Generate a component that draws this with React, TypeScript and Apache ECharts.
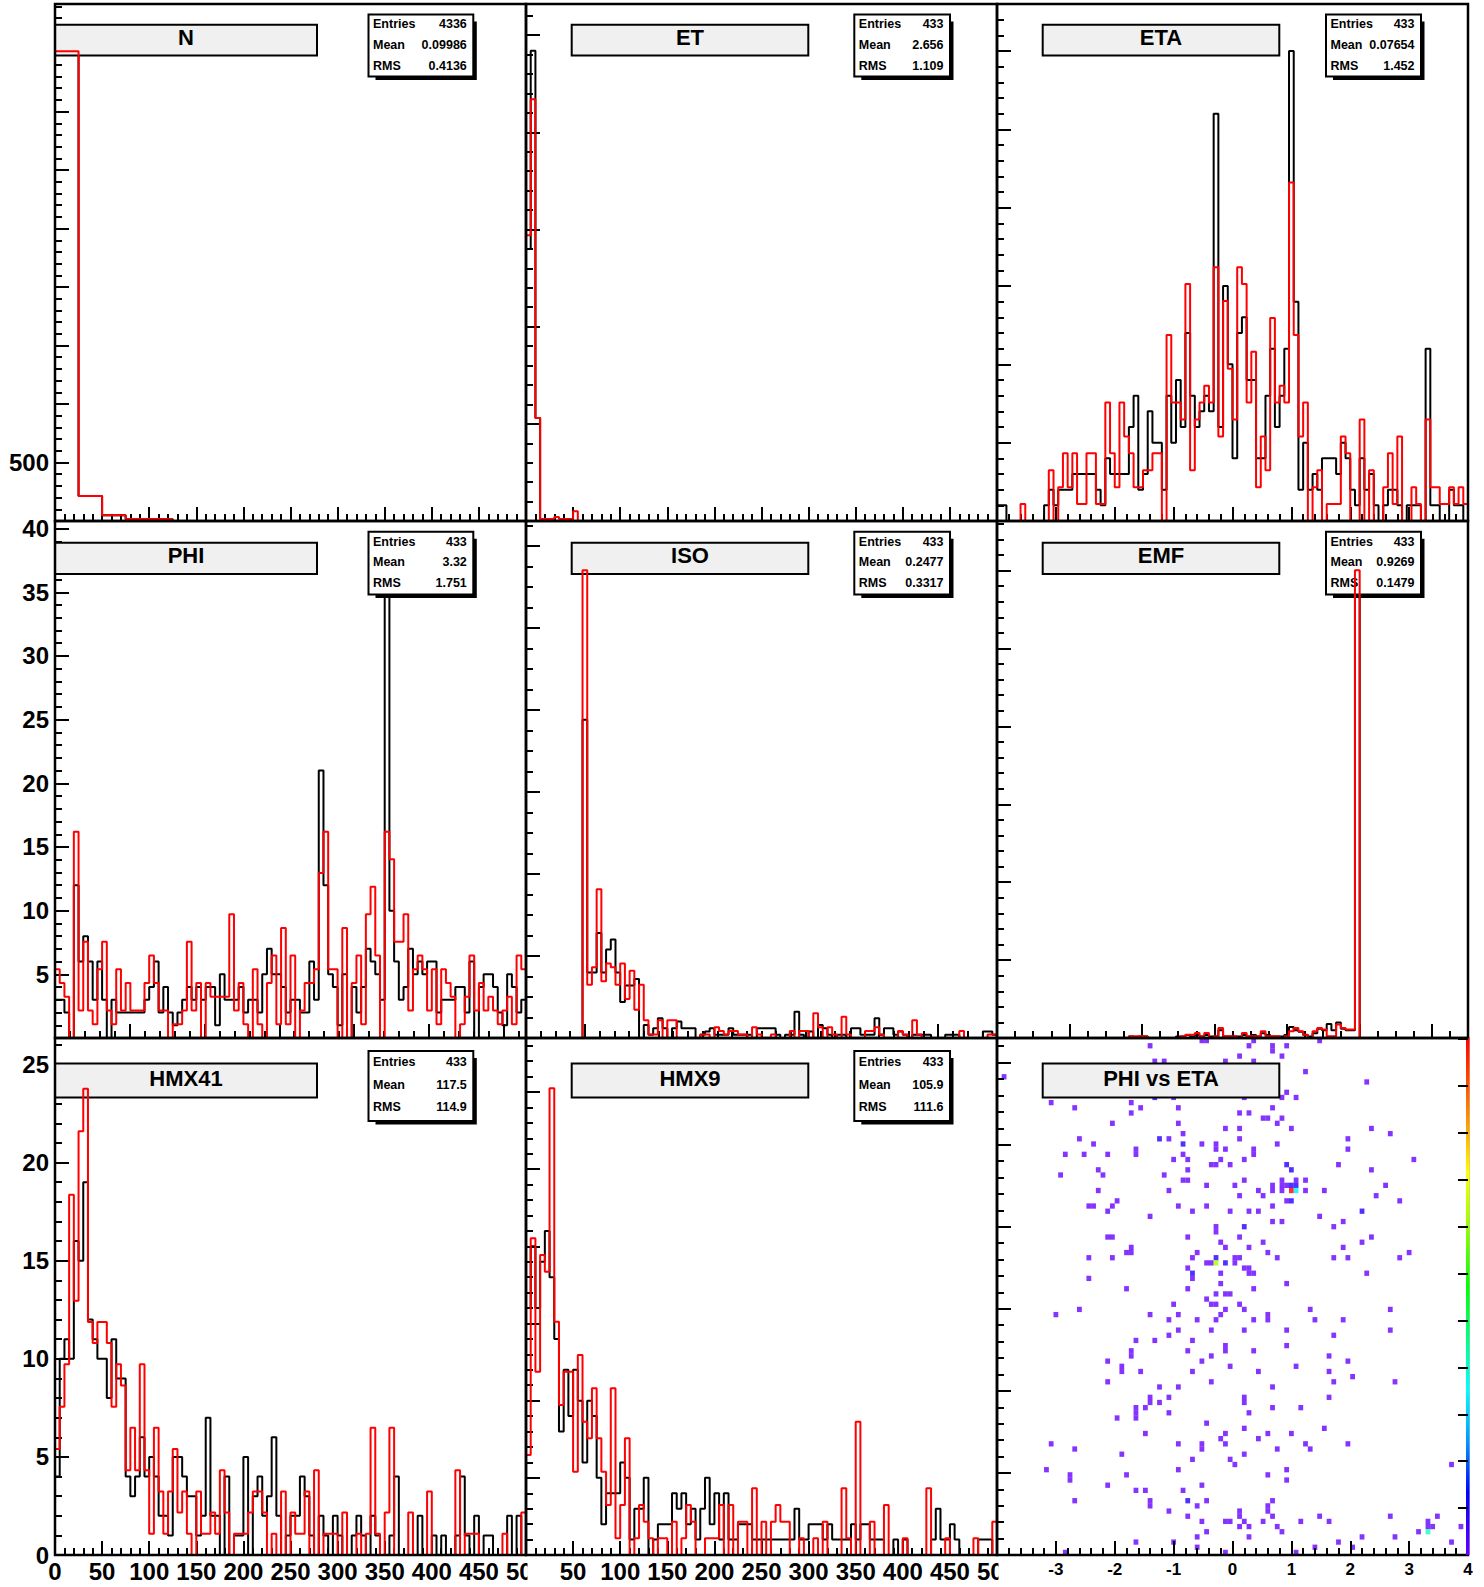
import React, { useEffect, useRef } from "react";
import * as echarts from "echarts";

const FONT = '"Liberation Sans", Arial, Helvetica, sans-serif';

// ---------------- titles & stats ----------------
const TITLES = ["N", "ET", "ETA", "PHI", "ISO", "EMF", "HMX41", "HMX9", "PHI vs ETA"];
const STAT_LABELS = ["Entries", "Mean", "RMS"];
const STAT_ENTRIES = ["4336", "433", "433", "433", "433", "433", "433", "433"];
const STAT_MEANS = ["0.09986", "2.656", "0.07654", "3.32", "0.2477", "0.9269", "117.5", "105.9"];
const STAT_RMS = ["0.4136", "1.109", "1.452", "1.751", "0.3317", "0.1479", "114.9", "111.6"];

// ---------------- histogram contents (black = reference, red = comparison) ----------------
const N_BLACK = [4017, 214, 50, 18, 14, 0, 0, 0, 0, 0, 0, 0, 0, 0, 0, 0, 0, 0, 0, 0];
const N_RED = [4017, 214, 50, 18, 14, 0, 0, 0, 0, 0, 0, 0, 0, 0, 0, 0, 0, 0, 0, 0];

const ET_BLACK = [
  140, 242, 53, 1, 1, 1, 0, 0, 0, 0,
  0, 0, 0, 0, 0, 0, 0, 0, 0, 0,
  0, 0, 0, 0, 0, 0, 0, 0, 0, 0,
  0, 0, 0, 0, 0, 0, 0, 0, 0, 0,
  0, 0, 0, 0, 0, 0, 0, 0, 0, 0,
  0, 0, 0, 0, 0, 0, 0, 0, 0, 0,
  0, 0, 0, 0, 0, 0, 0, 0, 0, 0,
  0, 0, 0, 0, 0, 0, 0, 0, 0, 0,
  0, 0, 0, 0, 0, 0, 0, 0, 0, 0,
  0, 0, 0, 0, 0, 0, 0, 0, 0, 0,
];
const ET_RED = [
  147, 217, 53, 1, 1, 1, 2, 1, 1, 1,
  5, 0, 0, 0, 0, 0, 0, 0, 0, 0,
  0, 0, 0, 0, 0, 0, 0, 0, 0, 0,
  0, 0, 0, 0, 0, 0, 0, 0, 0, 0,
  0, 0, 0, 0, 0, 0, 0, 0, 0, 0,
  0, 0, 0, 0, 0, 0, 0, 0, 0, 0,
  0, 0, 0, 0, 0, 0, 0, 0, 0, 0,
  0, 0, 0, 0, 0, 0, 0, 0, 0, 0,
  0, 0, 0, 0, 0, 0, 0, 0, 0, 0,
  0, 0, 0, 0, 0, 0, 0, 0, 0, 0,
];

const ETA_BLACK = [
  1, 1, 0, 0, 0, 0, 0, 0, 0, 0,
  1, 2, 1, 2, 2, 2, 3, 3, 3, 3,
  3, 2, 1, 4, 3, 3, 3, 3, 6, 8,
  2, 3, 7, 5, 5, 2, 8, 5, 9, 6,
  12, 8, 6, 7, 8, 7, 26, 6, 15, 10,
  4, 12, 13, 9, 9, 4, 4, 8, 11, 6,
  8, 11, 30, 14, 2, 5, 2, 3, 2, 4,
  4, 4, 3, 5, 4, 2, 1, 4, 2, 3,
  1, 0, 1, 2, 2, 1, 0, 1, 1, 1,
  0, 11, 1, 1, 0, 0, 2, 1, 1, 0,
];
const ETA_RED = [
  0, 0, 0, 0, 0, 1, 0, 0, 0, 0,
  0, 3, 0, 2, 4, 2, 4, 1, 1, 4,
  4, 1, 1, 7, 4, 2, 7, 5, 4, 2,
  2, 3, 3, 4, 4, 0, 11, 7, 7, 6,
  14, 3, 6, 7, 8, 7, 15, 5, 13, 9,
  6, 15, 14, 7, 10, 2, 5, 3, 12, 7,
  8, 7, 20, 11, 5, 7, 0, 2, 3, 0,
  1, 1, 1, 5, 4, 0, 0, 6, 0, 3,
  0, 0, 2, 4, 1, 5, 0, 0, 2, 1,
  0, 6, 2, 2, 1, 1, 2, 1, 2, 1,
];

const PHI_BLACK = [
  3, 3, 2, 0, 12, 6, 8, 6, 3, 6,
  3, 0, 3, 2, 2, 2, 2, 2, 2, 3,
  4, 6, 2, 4, 2, 1, 2, 3, 4, 3,
  4, 3, 4, 4, 1, 5, 3, 3, 3, 4,
  2, 3, 3, 2, 5, 7, 5, 5, 4, 2,
  3, 3, 2, 2, 6, 3, 21, 12, 5, 4,
  1, 5, 0, 4, 2, 4, 7, 6, 5, 3,
  37, 10, 6, 3, 4, 7, 5, 6, 5, 6,
  6, 2, 3, 3, 3, 4, 4, 2, 6, 0,
  4, 5, 5, 4, 2, 1, 5, 4, 2, 3,
];
const PHI_RED = [
  5, 4, 3, 0, 15, 2, 7, 2, 1, 5,
  7, 2, 1, 5, 2, 4, 2, 2, 2, 4,
  6, 4, 2, 2, 0, 1, 1, 2, 7, 2,
  4, 0, 4, 3, 3, 3, 3, 9, 2, 4,
  1, 0, 5, 1, 0, 4, 6, 1, 8, 1,
  6, 0, 2, 4, 4, 5, 12, 15, 5, 5,
  0, 8, 0, 4, 6, 1, 9, 11, 6, 0,
  15, 13, 7, 7, 9, 2, 5, 6, 5, 2,
  5, 1, 5, 4, 3, 0, 1, 3, 6, 2,
  4, 2, 3, 2, 1, 2, 3, 1, 6, 5,
];

const ISO_BLACK = [
  0, 0, 0, 0, 0, 0, 0, 0, 0, 0,
  0, 0, 97, 20, 20, 32, 20, 27, 30, 20,
  11, 16, 16, 18, 0, 4, 1, 3, 6, 3,
  0, 3, 5, 3, 3, 3, 0, 1, 2, 3,
  1, 1, 1, 3, 1, 1, 1, 1, 0, 3,
  3, 3, 3, 1, 0, 1, 1, 8, 1, 0,
  2, 0, 4, 3, 1, 0, 1, 1, 0, 3,
  3, 1, 1, 1, 6, 1, 3, 3, 1, 2,
  1, 0, 1, 1, 1, 1, 0, 0, 0, 1,
  1, 1, 0, 0, 0, 0, 0, 2, 2, 1,
];
const ISO_RED = [
  0, 0, 0, 0, 0, 0, 0, 0, 0, 0,
  0, 0, 132, 15, 20, 42, 16, 21, 20, 15,
  21, 11, 19, 8, 15, 5, 1, 1, 5, 0,
  5, 5, 0, 0, 0, 0, 0, 1, 1, 0,
  3, 2, 1, 2, 2, 1, 1, 0, 3, 1,
  0, 0, 1, 0, 0, 0, 2, 0, 2, 2,
  0, 7, 3, 0, 3, 1, 0, 6, 1, 0,
  0, 0, 2, 2, 3, 1, 0, 0, 0, 2,
  1, 0, 5, 1, 0, 0, 0, 0, 0, 0,
  0, 0, 2, 0, 0, 0, 0, 0, 1, 1,
];

const EMF_BLACK = [
  0, 0, 0, 0, 0, 0, 0, 0, 0, 0,
  0, 0, 0, 0, 0, 0, 0, 0, 0, 0,
  0, 0, 0, 0, 0, 0, 0, 0, 1, 0,
  1, 1, 0, 0, 0, 0, 0, 0, 1, 1,
  2, 1, 2, 1, 2, 1, 1, 5, 1, 1,
  1, 1, 2, 1, 2, 1, 3, 2, 1, 1,
  1, 2, 7, 5, 4, 2, 1, 3, 6, 5,
  9, 5, 10, 6, 5, 5, 320, 0, 0, 0,
  0, 0, 0, 0, 0, 0, 0, 0, 0, 0,
  0, 0, 0, 0, 0, 0, 0, 0, 0, 0,
];
const EMF_RED = [
  0, 0, 0, 0, 0, 0, 0, 0, 0, 0,
  0, 0, 0, 0, 0, 0, 0, 0, 0, 0,
  0, 0, 0, 0, 0, 0, 0, 0, 1, 1,
  1, 1, 0, 0, 0, 0, 0, 0, 0, 1,
  2, 2, 3, 1, 3, 0, 1, 6, 1, 1,
  1, 0, 3, 1, 1, 1, 4, 1, 1, 1,
  0, 1, 4, 6, 4, 2, 0, 4, 6, 5,
  1, 1, 8, 6, 5, 5, 278, 0, 0, 0,
  0, 0, 0, 0, 0, 0, 0, 0, 0, 0,
  0, 0, 0, 0, 0, 0, 0, 0, 0, 0,
];

const HMX41_BLACK = [
  4, 10, 11, 10, 16, 15, 19, 12, 11, 10,
  10, 8, 11, 9, 9, 4, 3, 4, 6, 4,
  5, 4, 2, 2, 1, 5, 5, 4, 3, 3,
  1, 2, 7, 2, 2, 0, 4, 0, 1, 1,
  5, 0, 3, 4, 2, 3, 6, 2, 0, 1,
  2, 2, 4, 3, 1, 0, 2, 1, 0, 2,
  1, 0, 0, 1, 2, 1, 0, 2, 1, 0,
  0, 1, 4, 0, 0, 0, 0, 2, 0, 0,
  1, 0, 1, 0, 0, 1, 4, 1, 0, 2,
  0, 1, 1, 0, 0, 0, 2, 0, 2, 0,
];
const HMX41_RED = [
  5, 7, 9, 17, 12, 20, 22, 11, 10, 11,
  11, 10, 7, 9, 8, 4, 6, 4, 9, 4,
  1, 6, 3, 1, 3, 5, 2, 3, 1, 0,
  3, 1, 1, 2, 1, 4, 2, 0, 1, 1,
  1, 2, 3, 3, 2, 0, 1, 0, 3, 0,
  2, 1, 1, 3, 0, 4, 0, 1, 1, 1,
  0, 2, 0, 0, 1, 0, 1, 6, 1, 0,
  2, 6, 0, 0, 0, 2, 0, 0, 0, 3,
  0, 0, 0, 0, 0, 4, 0, 1, 1, 1,
  0, 0, 0, 0, 0, 1, 0, 0, 0, 2,
];

const HMX9_BLACK = [
  16, 20, 16, 19, 21, 18, 14, 8, 12, 9,
  12, 10, 6, 10, 9, 5, 2, 4, 4, 4,
  6, 5, 1, 3, 3, 5, 0, 1, 2, 2,
  2, 4, 3, 4, 2, 3, 1, 3, 5, 2,
  4, 1, 4, 1, 1, 2, 2, 2, 1, 1,
  1, 1, 1, 1, 1, 1, 1, 3, 1, 1,
  2, 2, 2, 1, 2, 1, 1, 1, 1, 2,
  1, 2, 2, 1, 1, 1, 0, 0, 1, 0,
  1, 0, 0, 0, 0, 0, 1, 3, 1, 1,
  2, 1, 0, 0, 0, 0, 1, 1, 1, 0,
];
const HMX9_RED = [
  6, 19, 11, 18, 17, 28, 14, 9, 11, 11,
  5, 12, 8, 7, 10, 7, 5, 3, 10, 1,
  3, 7, 0, 1, 3, 2, 1, 0, 1, 1,
  0, 2, 0, 1, 3, 2, 0, 0, 1, 1,
  1, 3, 0, 3, 0, 2, 2, 0, 4, 0,
  2, 0, 2, 3, 2, 2, 0, 0, 1, 0,
  0, 1, 0, 2, 0, 0, 0, 4, 1, 0,
  8, 0, 0, 2, 0, 0, 3, 0, 0, 0,
  1, 0, 0, 0, 0, 4, 0, 0, 0, 1,
  0, 0, 0, 0, 0, 1, 0, 0, 0, 2,
];

// 2D histogram PHI vs ETA: [eta bin, phi bin, content]  (100 x 100 bins)
const PHI_ETA_CELLS: [number, number, number][] = [
  [43,99,1],[44,99,1],[54,99,1],[68,99,1],[32,98,1],[53,98,1],[58,98,1],[61,98,1],[58,97,1],
  [51,96,1],[60,96,1],[33,95,1],[35,95,1],[48,95,1],[54,95,1],[65,93,1],[1,92,1],[78,91,1],[61,89,1],
  [33,88,2],[37,88,1],[52,88,1],[60,88,1],[63,88,1],[11,87,1],[28,87,1],
  [16,86,1],[30,86,1],[38,86,1],[58,86,1],[28,85,1],[51,85,1],[53,85,1],
  [56,84,1],[57,84,1],[60,84,1],[24,83,1],[38,83,1],[59,83,1],
  [48,82,1],[51,82,1],[62,82,1],[79,82,1],[39,81,1],[83,81,1],
  [17,80,1],[34,80,2],[36,80,1],[51,80,1],[74,80,1],
  [20,79,1],[39,79,2],[43,79,1],[46,79,1],[59,79,1],
  [29,78,1],[46,78,1],[48,78,1],[54,78,1],[74,78,1],
  [14,77,1],[18,77,1],[23,77,1],[29,77,1],[39,77,1],[54,77,1],
  [37,76,1],[40,76,1],[47,76,1],[52,76,1],[88,76,1],
  [45,75,1],[46,75,1],[49,75,1],[61,75,2],[72,75,1],
  [21,74,1],[40,74,1],[62,74,2],[79,74,1],[13,73,1],[22,73,1],[35,73,1],
  [39,72,1],[40,72,1],[52,72,1],[60,72,1],[63,72,1],[65,72,1],
  [44,71,1],[50,71,1],[58,71,1],[60,71,1],[61,71,1],[62,71,2],[63,71,2],[82,71,1],
  [21,70,1],[36,70,1],[55,70,1],[58,70,1],[60,70,1],[62,70,7],[63,70,3],[65,70,1],[69,70,1],
  [51,69,1],[56,69,1],[80,69,1],[25,68,1],[61,68,1],[62,68,2],[85,68,1],
  [19,67,1],[20,67,1],[24,67,1],[38,67,1],[44,67,1],[58,67,1],
  [23,66,1],[41,66,1],[49,66,1],[53,66,1],[55,66,1],[77,66,2],
  [32,65,1],[68,65,1],[58,64,1],[60,64,1],[73,64,1],[46,63,1],[52,63,2],[71,63,1],[46,62,1],
  [23,61,1],[24,61,1],[40,61,1],[51,61,1],[79,61,1],[47,60,1],[56,60,1],[77,60,1],
  [28,59,1],[48,59,1],[53,59,1],[73,59,1],[27,58,1],[28,58,1],[42,58,1],[57,58,1],[87,58,1],
  [19,57,1],[24,57,1],[41,57,1],[46,57,2],[50,57,1],[51,57,1],[59,57,1],[71,57,1],[74,57,1],[85,57,1],
  [44,56,1],[45,56,1],[46,56,5],[48,56,2],[50,56,1],[40,55,1],[52,55,1],[53,55,1],
  [41,54,2],[47,54,1],[53,54,1],[54,54,1],[78,54,1],[19,53,1],[41,53,1],[47,52,1],[61,52,1],
  [27,51,1],[40,51,1],[54,51,1],[46,50,1],[48,50,1],[49,50,1],[44,49,1],
  [37,48,1],[45,48,1],[46,48,1],[51,48,1],[17,47,1],[48,47,1],[52,47,1],[66,47,1],[83,47,1],
  [12,46,1],[32,46,1],[38,46,1],[47,46,1],[57,46,1],
  [36,45,1],[42,45,1],[46,45,1],[54,45,1],[57,45,1],[67,45,1],[73,45,1],
  [38,43,1],[45,43,1],[52,43,1],[61,43,1],[83,43,1],[36,42,1],[71,42,1],
  [29,41,1],[33,41,1],[41,41,1],[48,40,1],[61,40,1],[28,39,1],[40,39,1],[48,39,1],[54,39,1],
  [28,38,1],[45,38,1],[70,38,1],[23,37,1],[43,37,1],[74,37,1],[26,36,1],[49,36,1],[63,36,1],
  [26,35,1],[30,35,1],[41,35,1],[55,35,1],[70,35,1],[75,34,1],
  [23,33,1],[45,33,1],[71,33,1],[84,33,1],[34,32,1],[38,32,1],[58,32,1],
  [32,30,1],[36,30,1],[52,30,1],[70,30,1],[32,29,1],[34,29,1],[52,29,1],
  [29,28,1],[31,28,1],[58,28,1],[64,28,1],[29,27,1],[36,27,1],[53,27,1],[25,26,1],[29,26,1],
  [44,25,1],[52,24,1],[69,24,1],[31,23,1],[48,23,1],[57,23,1],[62,23,1],[47,22,1],[55,22,1],
  [11,21,1],[38,21,1],[43,21,1],[48,21,1],[65,21,1],[74,21,1],[16,20,1],[43,20,1],[59,20,1],[66,20,1],
  [26,19,1],[52,19,1],[41,18,1],[49,18,1],[50,17,1],[96,17,1],[10,16,1],[38,16,1],[61,16,1],
  [15,15,1],[27,15,1],[57,15,1],[15,14,1],[61,14,1],[23,13,1],[43,13,1],[29,12,1],[31,12,1],[39,12,1],
  [16,10,1],[32,10,1],[40,10,2],[44,10,1],[58,10,1],[32,9,1],[42,9,1],[57,9,1],[36,8,1],[51,8,1],[57,8,1],
  [40,7,1],[51,7,1],[58,7,1],[68,7,1],[83,7,1],[93,7,1],
  [43,6,1],[48,6,1],[49,6,1],[52,6,1],[56,6,1],[64,6,1],[70,6,1],[91,6,1],
  [51,5,1],[53,5,1],[59,5,1],[91,5,1],[92,5,1],[98,5,1],[44,4,1],[60,4,1],[89,4,1],[91,4,4],
  [42,3,1],[53,3,1],[77,3,1],[84,3,1],[29,2,1],[37,2,1],[72,2,1],[96,2,1],
  [42,1,1],[67,1,1],[75,1,1],[14,0,1],[48,0,1],[63,0,1],
];

// axis label lists
const HMX41_X_LABELS = [0, 50, 100, 150, 200, 250, 300, 350, 400, 450, 500];
const HMX9_X_LABELS = [50, 100, 150, 200, 250, 300, 350, 400, 450, 500];
const ETA2D_X_LABELS = [-3, -2, -1, 0, 1, 2, 3, 4];
const N_Y_LABELS = [500];
const PHI_Y_LABELS = [5, 10, 15, 20, 25, 30, 35, 40];
const HMX41_Y_LABELS = [0, 5, 10, 15, 20, 25];
const PALETTE_TICKS = [1, 2, 3, 4, 5, 6, 7, 8, 9, 10, 11];
const COUNT_COLORS = ["#ffffff", "#6600ff", "#2200ff", "#00eeff", "#19ffb4", "#a6ff00", "#ffaa00", "#ff0000"];

// ---------------- layout (pixels) ----------------
const COL_X = [55, 526, 997];
const ROW_Y = [4, 521, 1038];
const PAD_W = 471;
const PAD_H = 517;
const TITLE_X = [[55, 317], [571.7, 808.3], [1042.7, 1279.3]];
const TITLE_Y = [[24.8, 55.4], [542.7, 574], [1063.4, 1097.6]];
const STAT_X = [[368.5, 473.3], [854.3, 950], [1326, 1421]];
const STAT_Y = [[14.5, 76.4], [531.8, 594.4], [1051, 1121]];
const STAT_ROWS = [[24, 44.5, 65.5], [542, 562, 583], [1062, 1084.5, 1106.5]];

type Pad = {
  xr: [number, number]; xs: [number, number];
  yr: [number, number]; ys: [number, number];
  xLabels?: number[]; yLabels?: number[]; xLabelSize?: number;
};

const PADS: Pad[] = [
  { xr: [0, 20], xs: [2, 0.4], yr: [0, 4420], ys: [500, 100], yLabels: N_Y_LABELS },
  { xr: [0, 100], xs: [10, 2], yr: [0, 266], ys: [50, 10] },
  { xr: [-4, 4], xs: [1, 0.2], yr: [0, 33], ys: [5, 1] },
  { xr: [0, 6.3], xs: [1, 0.2], yr: [0, 40.6], ys: [5, 1], yLabels: PHI_Y_LABELS },
  { xr: [-1 / 6, 7 / 6], xs: [1, 1 / 24], yr: [0, 157.6], ys: [25, 6.25] },
  { xr: [0, 1.3], xs: [0.2, 0.05], yr: [0, 331.8], ys: [50, 10] },
  { xr: [0, 500], xs: [50, 10], yr: [0, 26.35], ys: [5, 1], xLabels: HMX41_X_LABELS, yLabels: HMX41_Y_LABELS },
  { xr: [0, 500], xs: [50, 10], yr: [0, 33.5], ys: [5, 1], xLabels: HMX9_X_LABELS },
  { xr: [-4, 4], xs: [1, 0.2], yr: [0, 6.3], ys: [1, 0.2], xLabels: ETA2D_X_LABELS, xLabelSize: 17 },
];

// red histograms are normalised to the black ones
const RED_NORM = 1.08;
const HISTS = [
  { pad: 0, black: N_BLACK, red: N_RED, norm: 1 },
  { pad: 1, black: ET_BLACK, red: ET_RED, norm: 1 },
  { pad: 2, black: ETA_BLACK, red: ETA_RED, norm: RED_NORM },
  { pad: 3, black: PHI_BLACK, red: PHI_RED, norm: RED_NORM },
  { pad: 4, black: ISO_BLACK, red: ISO_RED, norm: RED_NORM },
  { pad: 5, black: EMF_BLACK, red: EMF_RED, norm: RED_NORM },
  { pad: 6, black: HMX41_BLACK, red: HMX41_RED, norm: RED_NORM },
  { pad: 7, black: HMX9_BLACK, red: HMX9_RED, norm: RED_NORM },
];

function ticksIn(min: number, max: number, step: number): number[] {
  const out: number[] = [];
  const start = Math.ceil(min / step - 1e-6);
  for (let k = start; k * step <= max + 1e-6; k++) out.push(+(k * step).toFixed(6));
  return out;
}

function stepData(values: number[], range: [number, number], norm: number) {
  const n = values.length;
  const w = (range[1] - range[0]) / n;
  const pts: number[][] = values.map((v, k) => [range[0] + k * w, v * norm]);
  pts.push([range[1], values[n - 1] * norm]);
  return pts;
}

function buildOption() {
  const grids: any[] = [];
  const xAxes: any[] = [];
  const yAxes: any[] = [];
  const tickStyle = { color: "#000", width: 2 };
  const labelBase = { color: "#000", fontFamily: FONT, fontWeight: "bold" };
  const els: any[] = [];

  PADS.forEach((p, i) => {
    const col = i % 3;
    const row = Math.floor(i / 3);
    grids.push({
      left: COL_X[col], top: ROW_Y[row], width: PAD_W, height: PAD_H,
      show: false, containLabel: false, outerBoundsMode: "none",
    });
    // pad frame drawn above the histograms
    els.push({
      type: "rect", shape: { x: COL_X[col], y: ROW_Y[row], width: PAD_W, height: PAD_H },
      style: { fill: "none", stroke: "#000", lineWidth: 2.5 }, z: 21, silent: true,
    });
    const common = {
      type: "value", gridIndex: i, splitLine: { show: false },
      axisLine: { show: false, onZero: false }, minorTick: { show: false }, z: 15,
    };
    xAxes.push({
      ...common, position: "bottom", min: p.xr[0], max: p.xr[1],
      axisTick: { show: true, inside: true, length: 14, lineStyle: tickStyle, customValues: ticksIn(p.xr[0], p.xr[1], p.xs[0]) },
      axisLabel: p.xLabels
        ? { show: true, ...labelBase, customValues: p.xLabels, fontSize: p.xLabelSize ?? 24, margin: p.xLabelSize ? 6 : 4 }
        : { show: false },
    });
    xAxes.push({
      ...common, position: "bottom", min: p.xr[0], max: p.xr[1],
      axisTick: { show: true, inside: true, length: 7, lineStyle: tickStyle, customValues: ticksIn(p.xr[0], p.xr[1], p.xs[1]) },
      axisLabel: { show: false },
    });
    yAxes.push({
      ...common, position: "left", min: p.yr[0], max: p.yr[1],
      axisTick: { show: true, inside: true, length: 14, lineStyle: tickStyle, customValues: ticksIn(p.yr[0], p.yr[1], p.ys[0]) },
      axisLabel: p.yLabels
        ? { show: true, ...labelBase, customValues: p.yLabels, fontSize: 24, margin: 6 }
        : { show: false },
    });
    yAxes.push({
      ...common, position: "left", min: p.yr[0], max: p.yr[1],
      axisTick: { show: true, inside: true, length: 7, lineStyle: tickStyle, customValues: ticksIn(p.yr[0], p.yr[1], p.ys[1]) },
      axisLabel: { show: false },
    });
  });
  // palette axis of the 2D pad
  yAxes.push({
    type: "value", gridIndex: 8, position: "right", min: 0, max: 11.02,
    axisLine: { show: false, onZero: false }, splitLine: { show: false }, axisLabel: { show: false },
    axisTick: { show: true, inside: true, length: 10, lineStyle: tickStyle, customValues: PALETTE_TICKS }, z: 26,
  });

  const series: any[] = [];
  HISTS.forEach((h) => {
    const p = PADS[h.pad];
    series.push({
      type: "line", xAxisIndex: 2 * h.pad, yAxisIndex: 2 * h.pad, step: "end", symbol: "none",
      data: stepData(h.black, p.xr, 1), lineStyle: { color: "#000", width: 2 }, z: 2, silent: true, clip: true,
    });
    series.push({
      type: "line", xAxisIndex: 2 * h.pad, yAxisIndex: 2 * h.pad, step: "end", symbol: "none",
      data: stepData(h.red, p.xr, h.norm), lineStyle: { color: "#ff0000", width: 2 }, z: 20, silent: true, clip: true,
    });
  });
  const p9 = PADS[8];
  const etaW = (p9.xr[1] - p9.xr[0]) / 100;
  const phiW = (p9.yr[1] - p9.yr[0]) / 100;
  series.push({
    type: "scatter", xAxisIndex: 16, yAxisIndex: 16, symbol: "rect", symbolSize: [4.8, 5.3], silent: true, z: 2,
    data: PHI_ETA_CELLS.map(([i, j, c]) => ({
      value: [p9.xr[0] + (i + 0.5) * etaW, p9.yr[0] + (j + 0.5) * phiW, c],
      itemStyle: { color: COUNT_COLORS[c] },
    })),
  });

  TITLES.forEach((t, i) => {
    const col = i % 3;
    const row = Math.floor(i / 3);
    const [x0, x1] = TITLE_X[col];
    const [y0, y1] = TITLE_Y[row];
    els.push({ type: "rect", shape: { x: x0, y: y0, width: x1 - x0, height: y1 - y0 }, style: { fill: "#f0f0f0", stroke: "#000", lineWidth: 2 }, z: 16, silent: true });
    els.push({
      type: "text", x: (x0 + x1) / 2, y: (y0 + y1) / 2 - 2.5, z: 18, silent: true,
      style: { text: t, fill: "#000", font: `bold 22px ${FONT}`, textAlign: "center", align: "center", textVerticalAlign: "middle", verticalAlign: "middle" },
    });
  });
  STAT_ENTRIES.forEach((_, i) => {
    const col = i % 3;
    const row = Math.floor(i / 3);
    const [x0, x1] = STAT_X[col];
    const [y0, y1] = STAT_Y[row];
    els.push({ type: "rect", shape: { x: x0 + 7, y: y0 + 7, width: x1 - x0 - 3.5, height: y1 - y0 - 3.5 }, style: { fill: "#000" }, z: 16, silent: true });
    els.push({ type: "rect", shape: { x: x0, y: y0, width: x1 - x0, height: y1 - y0 }, style: { fill: "#fff", stroke: "#000", lineWidth: 2 }, z: 17, silent: true });
    const vals = [STAT_ENTRIES[i], STAT_MEANS[i], STAT_RMS[i]];
    STAT_LABELS.forEach((lab, k) => {
      const yy = STAT_ROWS[row][k];
      els.push({ type: "text", x: x0 + 4.5, y: yy, z: 18, silent: true,
        style: { text: lab, fill: "#000", font: `bold 12.5px ${FONT}`, textAlign: "left", align: "left", textVerticalAlign: "middle", verticalAlign: "middle" } });
      els.push({ type: "text", x: x1 - 6.5, y: yy, z: 18, silent: true,
        style: { text: vals[k], fill: "#000", font: `bold 12.5px ${FONT}`, textAlign: "right", align: "right", textVerticalAlign: "middle", verticalAlign: "middle" } });
    });
  });
  // palette strip of the 2D pad
  els.push({
    type: "rect", shape: { x: 1466, y: ROW_Y[2], width: 3.5, height: PAD_H }, z: 25, silent: true,
    style: {
      fill: new echarts.graphic.LinearGradient(0, 0, 0, 1, [
        { offset: 0, color: "#ff0000" }, { offset: 0.1, color: "#ff5a00" }, { offset: 0.18, color: "#ffaa00" },
        { offset: 0.26, color: "#ffff00" }, { offset: 0.36, color: "#99ff00" }, { offset: 0.48, color: "#00ff00" },
        { offset: 0.6, color: "#00ff99" }, { offset: 0.68, color: "#00ffff" }, { offset: 0.78, color: "#0099ff" },
        { offset: 0.88, color: "#0000ff" }, { offset: 1, color: "#6600ff" },
      ]),
    },
  });
  // pad clipping of the rightmost x labels
  els.push({ type: "rect", shape: { x: 527.5, y: 1558, width: 22, height: 29 }, style: { fill: "#fff" }, z: 30, silent: true });
  els.push({ type: "rect", shape: { x: 998.5, y: 1558, width: 22, height: 29 }, style: { fill: "#fff" }, z: 30, silent: true });

  return {
    animation: false,
    backgroundColor: "#ffffff",
    grid: grids,
    xAxis: xAxes,
    yAxis: yAxes,
    series,
    graphic: { elements: els },
  };
}

export default function App() {
  const ref = useRef<HTMLDivElement>(null);
  useEffect(() => {
    if (!ref.current) return;
    const chart = echarts.init(ref.current, null, { renderer: "svg" });
    chart.setOption(buildOption() as any);
    return () => chart.dispose();
  }, []);
  return (
    <div
      ref={ref}
      style={{ position: "absolute", left: 0, top: 0, width: 1484, height: 1587, background: "#fff" }}
    />
  );
}
